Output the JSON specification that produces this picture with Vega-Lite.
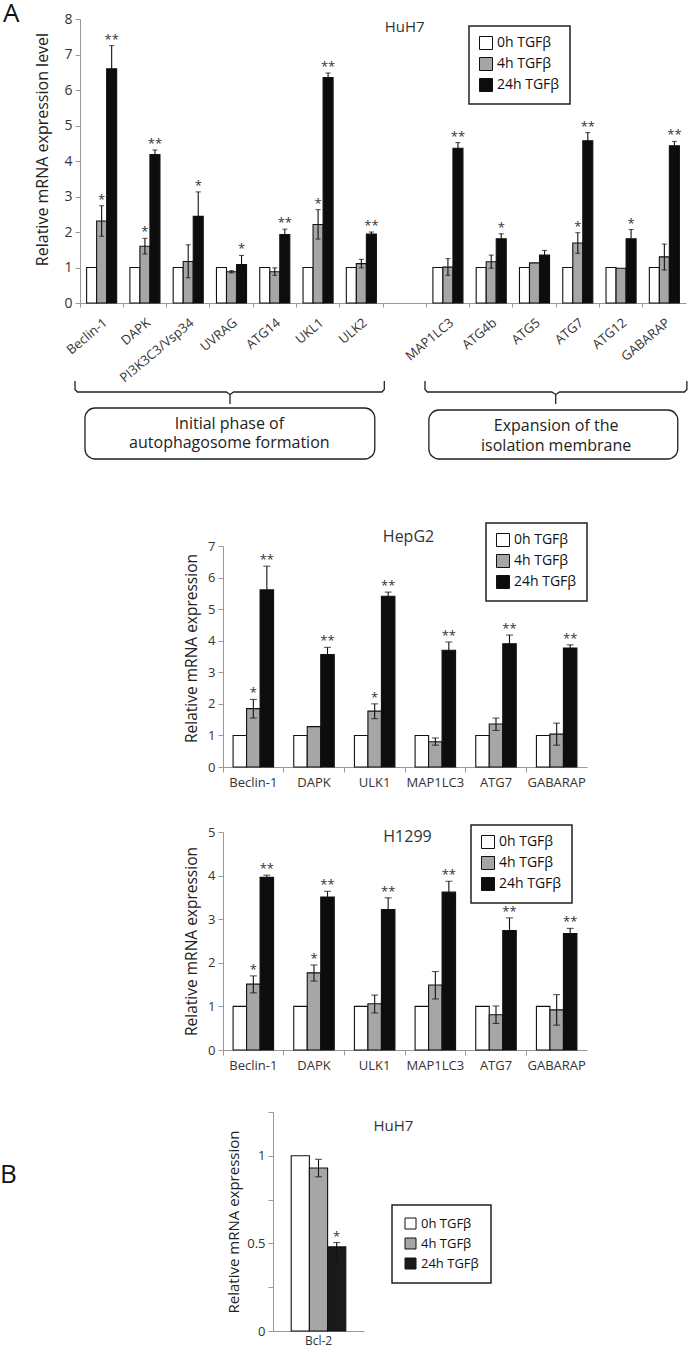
{
  "$schema": "https://vega.github.io/schema/vega-lite/v6.json",
  "padding": {"left": 0, "top": 1, "right": 0, "bottom": 0},
  "config": {
    "view": {"stroke": null},
    "font": "Open Sans",
    "axis": {"domainColor": "#999", "tickColor": "#999", "labelColor": "#333", "titleColor": "#222", "titleFontWeight": "normal", "grid": false, "labelOverlap": false},
    "legend": {"strokeWidth": 1.5},
    "title": {"fontWeight": "normal", "color": "#111"}
  },
  "datasets": {
    "huh7": [
      {"g": "Beclin-1", "t": "0h TGFβ", "v": 1},
      {"g": "Beclin-1", "t": "4h TGFβ", "v": 2.31, "lo": 1.88, "hi": 2.74, "s": "*"},
      {"g": "Beclin-1", "t": "24h TGFβ", "v": 6.6, "lo": 5.95, "hi": 7.25, "s": "**"},
      {"g": "DAPK", "t": "0h TGFβ", "v": 1},
      {"g": "DAPK", "t": "4h TGFβ", "v": 1.6, "lo": 1.38, "hi": 1.82, "s": "*"},
      {"g": "DAPK", "t": "24h TGFβ", "v": 4.18, "lo": 4.05, "hi": 4.31, "s": "**"},
      {"g": "PI3K3C3/Vsp34", "t": "0h TGFβ", "v": 1},
      {"g": "PI3K3C3/Vsp34", "t": "4h TGFβ", "v": 1.17, "lo": 0.71, "hi": 1.64},
      {"g": "PI3K3C3/Vsp34", "t": "24h TGFβ", "v": 2.44, "lo": 1.74, "hi": 3.13, "s": "*"},
      {"g": "UVRAG", "t": "0h TGFβ", "v": 1},
      {"g": "UVRAG", "t": "4h TGFβ", "v": 0.88, "lo": 0.85, "hi": 0.91},
      {"g": "UVRAG", "t": "24h TGFβ", "v": 1.08, "lo": 0.83, "hi": 1.34, "s": "*"},
      {"g": "ATG14", "t": "0h TGFβ", "v": 1},
      {"g": "ATG14", "t": "4h TGFβ", "v": 0.88, "lo": 0.78, "hi": 0.99},
      {"g": "ATG14", "t": "24h TGFβ", "v": 1.93, "lo": 1.78, "hi": 2.08, "s": "**"},
      {"g": "UKL1", "t": "0h TGFβ", "v": 1},
      {"g": "UKL1", "t": "4h TGFβ", "v": 2.21, "lo": 1.8, "hi": 2.63, "s": "*"},
      {"g": "UKL1", "t": "24h TGFβ", "v": 6.35, "lo": 6.22, "hi": 6.48, "s": "**"},
      {"g": "ULK2", "t": "0h TGFβ", "v": 1},
      {"g": "ULK2", "t": "4h TGFβ", "v": 1.11, "lo": 0.99, "hi": 1.23},
      {"g": "ULK2", "t": "24h TGFβ", "v": 1.94, "lo": 1.88, "hi": 2.0, "s": "**"},
      {"g": "MAP1LC3", "t": "0h TGFβ", "v": 1},
      {"g": "MAP1LC3", "t": "4h TGFβ", "v": 1.01, "lo": 0.78, "hi": 1.25},
      {"g": "MAP1LC3", "t": "24h TGFβ", "v": 4.36, "lo": 4.2, "hi": 4.52, "s": "**"},
      {"g": "ATG4b", "t": "0h TGFβ", "v": 1},
      {"g": "ATG4b", "t": "4h TGFβ", "v": 1.16, "lo": 0.98, "hi": 1.35},
      {"g": "ATG4b", "t": "24h TGFβ", "v": 1.81, "lo": 1.67, "hi": 1.95, "s": "*"},
      {"g": "ATG5", "t": "0h TGFβ", "v": 1},
      {"g": "ATG5", "t": "4h TGFβ", "v": 1.13},
      {"g": "ATG5", "t": "24h TGFβ", "v": 1.35, "lo": 1.22, "hi": 1.48},
      {"g": "ATG7", "t": "0h TGFβ", "v": 1},
      {"g": "ATG7", "t": "4h TGFβ", "v": 1.69, "lo": 1.4, "hi": 1.98, "s": "*"},
      {"g": "ATG7", "t": "24h TGFβ", "v": 4.57, "lo": 4.34, "hi": 4.8, "s": "**"},
      {"g": "ATG12", "t": "0h TGFβ", "v": 1},
      {"g": "ATG12", "t": "4h TGFβ", "v": 0.98},
      {"g": "ATG12", "t": "24h TGFβ", "v": 1.81, "lo": 1.55, "hi": 2.07, "s": "*"},
      {"g": "GABARAP", "t": "0h TGFβ", "v": 1},
      {"g": "GABARAP", "t": "4h TGFβ", "v": 1.3, "lo": 0.93, "hi": 1.66},
      {"g": "GABARAP", "t": "24h TGFβ", "v": 4.43, "lo": 4.31, "hi": 4.55, "s": "**"}
    ],
    "hepg2": [
      {"g": "Beclin-1", "t": "0h TGFβ", "v": 1},
      {"g": "Beclin-1", "t": "4h TGFβ", "v": 1.85, "lo": 1.55, "hi": 2.14, "s": "*"},
      {"g": "Beclin-1", "t": "24h TGFβ", "v": 5.61, "lo": 4.86, "hi": 6.36, "s": "**"},
      {"g": "DAPK", "t": "0h TGFβ", "v": 1},
      {"g": "DAPK", "t": "4h TGFβ", "v": 1.28},
      {"g": "DAPK", "t": "24h TGFβ", "v": 3.56, "lo": 3.33, "hi": 3.79, "s": "**"},
      {"g": "ULK1", "t": "0h TGFβ", "v": 1},
      {"g": "ULK1", "t": "4h TGFβ", "v": 1.77, "lo": 1.53, "hi": 2.0, "s": "*"},
      {"g": "ULK1", "t": "24h TGFβ", "v": 5.41, "lo": 5.28, "hi": 5.54, "s": "**"},
      {"g": "MAP1LC3", "t": "0h TGFβ", "v": 1},
      {"g": "MAP1LC3", "t": "4h TGFβ", "v": 0.8, "lo": 0.69, "hi": 0.92},
      {"g": "MAP1LC3", "t": "24h TGFβ", "v": 3.7, "lo": 3.44, "hi": 3.96, "s": "**"},
      {"g": "ATG7", "t": "0h TGFβ", "v": 1},
      {"g": "ATG7", "t": "4h TGFβ", "v": 1.36, "lo": 1.16, "hi": 1.55},
      {"g": "ATG7", "t": "24h TGFβ", "v": 3.9, "lo": 3.62, "hi": 4.18, "s": "**"},
      {"g": "GABARAP", "t": "0h TGFβ", "v": 1},
      {"g": "GABARAP", "t": "4h TGFβ", "v": 1.04, "lo": 0.69, "hi": 1.39},
      {"g": "GABARAP", "t": "24h TGFβ", "v": 3.77, "lo": 3.67, "hi": 3.87, "s": "**"}
    ],
    "h1299": [
      {"g": "Beclin-1", "t": "0h TGFβ", "v": 1},
      {"g": "Beclin-1", "t": "4h TGFβ", "v": 1.51, "lo": 1.31, "hi": 1.7, "s": "*"},
      {"g": "Beclin-1", "t": "24h TGFβ", "v": 3.96, "lo": 3.91, "hi": 4.01, "s": "**"},
      {"g": "DAPK", "t": "0h TGFβ", "v": 1},
      {"g": "DAPK", "t": "4h TGFβ", "v": 1.77, "lo": 1.58, "hi": 1.95, "s": "*"},
      {"g": "DAPK", "t": "24h TGFβ", "v": 3.51, "lo": 3.38, "hi": 3.64, "s": "**"},
      {"g": "ULK1", "t": "0h TGFβ", "v": 1},
      {"g": "ULK1", "t": "4h TGFβ", "v": 1.06, "lo": 0.85, "hi": 1.26},
      {"g": "ULK1", "t": "24h TGFβ", "v": 3.22, "lo": 2.95, "hi": 3.49, "s": "**"},
      {"g": "MAP1LC3", "t": "0h TGFβ", "v": 1},
      {"g": "MAP1LC3", "t": "4h TGFβ", "v": 1.49, "lo": 1.17, "hi": 1.8},
      {"g": "MAP1LC3", "t": "24h TGFβ", "v": 3.62, "lo": 3.37, "hi": 3.87, "s": "**"},
      {"g": "ATG7", "t": "0h TGFβ", "v": 1},
      {"g": "ATG7", "t": "4h TGFβ", "v": 0.81, "lo": 0.61, "hi": 1.01},
      {"g": "ATG7", "t": "24h TGFβ", "v": 2.74, "lo": 2.45, "hi": 3.03, "s": "**"},
      {"g": "GABARAP", "t": "0h TGFβ", "v": 1},
      {"g": "GABARAP", "t": "4h TGFβ", "v": 0.92, "lo": 0.57, "hi": 1.27},
      {"g": "GABARAP", "t": "24h TGFβ", "v": 2.67, "lo": 2.55, "hi": 2.79, "s": "**"}
    ],
    "bcl2": [
      {"g": "Bcl-2", "t": "0h TGFβ", "v": 1},
      {"g": "Bcl-2", "t": "4h TGFβ", "v": 0.93, "lo": 0.88, "hi": 0.98},
      {"g": "Bcl-2", "t": "24h TGFβ", "v": 0.48, "lo": 0.4, "hi": 0.505, "s": "*"}
    ],
    "braces": [
      {"b": 1, "o": 1, "x": -0.115, "y": 2},
      {"b": 1, "o": 2, "x": -0.115, "y": 10.5},
      {"b": 1, "o": 3, "x": -0.06, "y": 13},
      {"b": 1, "o": 4, "x": 3.38, "y": 13},
      {"b": 1, "o": 5, "x": 3.465, "y": 15.5},
      {"b": 1, "o": 6, "x": 3.465, "y": 25},
      {"b": 1, "o": 7, "x": 3.465, "y": 15.5},
      {"b": 1, "o": 8, "x": 3.55, "y": 13},
      {"b": 1, "o": 9, "x": 6.975, "y": 13},
      {"b": 1, "o": 10, "x": 7.03, "y": 10.5},
      {"b": 1, "o": 11, "x": 7.03, "y": 2},
      {"b": 2, "o": 1, "x": 7.97, "y": 2},
      {"b": 2, "o": 2, "x": 7.97, "y": 10.5},
      {"b": 2, "o": 3, "x": 8.025, "y": 13},
      {"b": 2, "o": 4, "x": 10.9, "y": 13},
      {"b": 2, "o": 5, "x": 10.99, "y": 15.5},
      {"b": 2, "o": 6, "x": 10.99, "y": 25},
      {"b": 2, "o": 7, "x": 10.99, "y": 15.5},
      {"b": 2, "o": 8, "x": 11.08, "y": 13},
      {"b": 2, "o": 9, "x": 13.965, "y": 13},
      {"b": 2, "o": 10, "x": 14.02, "y": 10.5},
      {"b": 2, "o": 11, "x": 14.02, "y": 2}
    ],
    "boxes": [
      {"x1": 0.115, "x2": 6.81, "y1": 29, "y2": 80},
      {"x1": 8.06, "x2": 13.81, "y1": 31, "y2": 80}
    ],
    "boxtext": [
      {"x": 3.45, "y": 45, "label": "Initial phase of"},
      {"x": 3.45, "y": 64, "label": "autophagosome formation"},
      {"x": 11.0, "y": 47, "label": "Expansion of the"},
      {"x": 11.0, "y": 67, "label": "isolation membrane"}
    ],
    "t_huh7": [{"g": " ", "v": 7.63, "label": "HuH7"}],
    "t_hepg2": [{"g": "MAP1LC3", "v": 7.13, "label": "HepG2"}],
    "t_h1299": [{"g": "MAP1LC3", "v": 4.77, "label": "H1299"}],
    "t_b": [{"g": "Bcl-2", "v": 1.139, "label": "HuH7"}]
  },
  "spacing": 0,
  "bounds": "flush",
  "resolve": {"scale": {"x": "independent", "y": "independent", "xOffset": "independent", "fill": "independent"}, "legend": {"fill": "independent"}},
  "vconcat": [
    {
      "width": 683, "height": 284,
      "title": {"text": "A", "anchor": "start", "frame": "group", "offset": -15, "dx": 0, "fontSize": 26, "fontWeight": "normal"},
      "data": {"name": "huh7"},
      "encoding": {
        "x": {"field": "g", "type": "nominal", "sort": null,
          "scale": {"domain": ["Beclin-1", "DAPK", "PI3K3C3/Vsp34", "UVRAG", "ATG14", "UKL1", "ULK2", " ", "MAP1LC3", "ATG4b", "ATG5", "ATG7", "ATG12", "GABARAP"], "range": [77, 683], "paddingInner": 0, "paddingOuter": 0},
          "axis": {"title": null, "bandPosition": 0, "labelAngle": -40, "labelFontSize": 13, "tickSize": 4, "labelPadding": 9}}
      },
      "layer": [
        {
          "mark": {"type": "bar", "stroke": "#111", "strokeWidth": 1.1},
          "encoding": {
            "xOffset": {"field": "t", "type": "nominal", "sort": null, "scale": {"domain": ["0h TGFβ", "4h TGFβ", "24h TGFβ"], "paddingInner": 0, "paddingOuter": 0.66}},
            "y": {"field": "v", "type": "quantitative", "scale": {"domain": [0, 8], "nice": false},
              "axis": {"title": "Relative mRNA expression level", "titleFontSize": 16, "titlePadding": 13, "titleY": 130, "values": [0, 1, 2, 3, 4, 5, 6, 7, 8], "labelFontSize": 14, "tickSize": 5, "labelPadding": 3, "offset": -77}},
            "fill": {"field": "t", "type": "nominal", "sort": null,
              "scale": {"domain": ["0h TGFβ", "4h TGFβ", "24h TGFβ"], "range": ["#ffffff", "#a6a6a6", "#0d0d0d"]},
              "legend": {"title": null, "orient": "none", "legendX": 466, "legendY": 7, "direction": "vertical", "symbolType": "square", "symbolSize": 169, "symbolStrokeColor": "#111", "symbolStrokeWidth": 1, "labelFontSize": 14, "labelColor": "#111", "labelOffset": 4, "padding": 10, "rowPadding": 3, "strokeColor": "#222", "fillColor": "#ffffff"}}
          }
        },
        {
          "transform": [{"filter": "isValid(datum.hi)"}],
          "mark": {"type": "rule", "color": "#111", "strokeWidth": 1.1},
          "encoding": {"xOffset": {"field": "t", "type": "nominal", "sort": null}, "y": {"field": "lo", "type": "quantitative", "axis": {"title": "Relative mRNA expression level", "titleFontSize": 16, "titlePadding": 13, "titleY": 130, "values": [0, 1, 2, 3, 4, 5, 6, 7, 8], "labelFontSize": 14, "tickSize": 5, "labelPadding": 3, "offset": -77}}, "y2": {"field": "hi"}}
        },
        {
          "transform": [{"filter": "isValid(datum.hi)"}],
          "mark": {"type": "tick", "color": "#111", "size": 5, "thickness": 1.1},
          "encoding": {"xOffset": {"field": "t", "type": "nominal", "sort": null}, "y": {"field": "hi", "type": "quantitative", "axis": {"title": "Relative mRNA expression level", "titleFontSize": 16, "titlePadding": 13, "titleY": 130, "values": [0, 1, 2, 3, 4, 5, 6, 7, 8], "labelFontSize": 14, "tickSize": 5, "labelPadding": 3, "offset": -77}}}
        },
        {
          "transform": [{"filter": "isValid(datum.lo)"}],
          "mark": {"type": "tick", "color": "#111", "size": 5, "thickness": 1.1},
          "encoding": {"xOffset": {"field": "t", "type": "nominal", "sort": null}, "y": {"field": "lo", "type": "quantitative", "axis": {"title": "Relative mRNA expression level", "titleFontSize": 16, "titlePadding": 13, "titleY": 130, "values": [0, 1, 2, 3, 4, 5, 6, 7, 8], "labelFontSize": 14, "tickSize": 5, "labelPadding": 3, "offset": -77}}}
        },
        {
          "transform": [{"filter": "isValid(datum.s)"}],
          "mark": {"type": "text", "baseline": "alphabetic", "dy": -2, "fontSize": 13, "color": "#333"},
          "encoding": {"xOffset": {"field": "t", "type": "nominal", "sort": null}, "y": {"field": "hi", "type": "quantitative", "axis": {"title": "Relative mRNA expression level", "titleFontSize": 16, "titlePadding": 13, "titleY": 130, "values": [0, 1, 2, 3, 4, 5, 6, 7, 8], "labelFontSize": 14, "tickSize": 5, "labelPadding": 3, "offset": -77}}, "text": {"field": "s"}}
        },
        {
          "data": {"name": "t_huh7"},
          "mark": {"type": "text", "baseline": "alphabetic", "align": "center", "fontSize": 15, "color": "#333"},
          "encoding": {"y": {"field": "v", "type": "quantitative", "axis": {"title": "Relative mRNA expression level", "titleFontSize": 16, "titlePadding": 13, "titleY": 130, "values": [0, 1, 2, 3, 4, 5, 6, 7, 8], "labelFontSize": 14, "tickSize": 5, "labelPadding": 3, "offset": -77}}, "text": {"field": "label"}}
        }
      ]
    },
    {"width": 1, "height": 76, "data": {"values": [{}]}, "mark": {"type": "point", "opacity": 0}, "encoding": {}},
    {
      "width": 683, "height": 82,
      "layer": [
        {
          "data": {"name": "braces"},
          "mark": {"type": "line", "color": "#222", "strokeWidth": 1.3, "interpolate": "linear", "clip": false},
          "encoding": {
            "x": {"field": "x", "type": "quantitative", "scale": {"domain": [0, 14], "range": [77, 683], "nice": false, "zero": false}, "axis": null},
            "y": {"field": "y", "type": "quantitative", "scale": {"domain": [0, 82], "nice": false, "reverse": true}, "axis": null},
            "detail": {"field": "b"},
            "order": {"field": "o"}
          }
        },
        {
          "data": {"name": "boxes"},
          "mark": {"type": "rect", "cornerRadius": 10, "fill": "#ffffff", "stroke": "#222", "strokeWidth": 1.3},
          "encoding": {
            "x": {"field": "x1", "type": "quantitative", "axis": null},
            "x2": {"field": "x2"},
            "y": {"field": "y1", "type": "quantitative", "axis": null},
            "y2": {"field": "y2"}
          }
        },
        {
          "data": {"name": "boxtext"},
          "mark": {"type": "text", "fontSize": 16, "color": "#222", "align": "center", "baseline": "middle"},
          "encoding": {
            "x": {"field": "x", "type": "quantitative", "axis": null},
            "y": {"field": "y", "type": "quantitative", "axis": null},
            "text": {"field": "label"}
          }
        }
      ]
    },
    {"width": 1, "height": 85, "data": {"values": [{}]}, "mark": {"type": "point", "opacity": 0}, "encoding": {}},
    {
      "width": 584, "height": 221,
      "data": {"name": "hepg2"},
      "encoding": {
        "x": {"field": "g", "type": "nominal", "sort": null,
          "scale": {"domain": ["Beclin-1", "DAPK", "ULK1", "MAP1LC3", "ATG7", "GABARAP"], "range": [220, 584], "paddingInner": 0, "paddingOuter": 0},
          "axis": {"title": null, "bandPosition": 0, "labelAngle": 0, "labelFontSize": 13, "tickSize": 5, "labelPadding": 4}}
      },
      "layer": [
        {
          "mark": {"type": "bar", "stroke": "#111", "strokeWidth": 1.1},
          "encoding": {
            "xOffset": {"field": "t", "type": "nominal", "sort": null, "scale": {"domain": ["0h TGFβ", "4h TGFβ", "24h TGFβ"], "paddingInner": 0, "paddingOuter": 0.747}},
            "y": {"field": "v", "type": "quantitative", "scale": {"domain": [0, 7], "nice": false},
              "axis": {"title": "Relative mRNA expression", "titleFontSize": 15.5, "titlePadding": 8, "titleY": 102, "values": [0, 1, 2, 3, 4, 5, 6, 7], "labelFontSize": 13, "tickSize": 5, "labelPadding": 3, "offset": -220}},
            "fill": {"field": "t", "type": "nominal", "sort": null,
              "scale": {"domain": ["0h TGFβ", "4h TGFβ", "24h TGFβ"], "range": ["#ffffff", "#a6a6a6", "#0d0d0d"]},
              "legend": {"title": null, "orient": "none", "legendX": 483, "legendY": -23, "direction": "vertical", "symbolType": "square", "symbolSize": 169, "symbolStrokeColor": "#111", "symbolStrokeWidth": 1, "labelFontSize": 14, "labelColor": "#111", "labelOffset": 4, "padding": 10, "rowPadding": 3, "strokeColor": "#222", "fillColor": "#ffffff"}}
          }
        },
        {
          "transform": [{"filter": "isValid(datum.hi)"}],
          "mark": {"type": "rule", "color": "#111", "strokeWidth": 1.1},
          "encoding": {"xOffset": {"field": "t", "type": "nominal", "sort": null}, "y": {"field": "lo", "type": "quantitative", "axis": {"title": "Relative mRNA expression", "titleFontSize": 15.5, "titlePadding": 8, "titleY": 102, "values": [0, 1, 2, 3, 4, 5, 6, 7], "labelFontSize": 13, "tickSize": 5, "labelPadding": 3, "offset": -220}}, "y2": {"field": "hi"}}
        },
        {
          "transform": [{"filter": "isValid(datum.hi)"}],
          "mark": {"type": "tick", "color": "#111", "size": 7, "thickness": 1.1},
          "encoding": {"xOffset": {"field": "t", "type": "nominal", "sort": null}, "y": {"field": "hi", "type": "quantitative", "axis": {"title": "Relative mRNA expression", "titleFontSize": 15.5, "titlePadding": 8, "titleY": 102, "values": [0, 1, 2, 3, 4, 5, 6, 7], "labelFontSize": 13, "tickSize": 5, "labelPadding": 3, "offset": -220}}}
        },
        {
          "transform": [{"filter": "isValid(datum.lo)"}],
          "mark": {"type": "tick", "color": "#111", "size": 7, "thickness": 1.1},
          "encoding": {"xOffset": {"field": "t", "type": "nominal", "sort": null}, "y": {"field": "lo", "type": "quantitative", "axis": {"title": "Relative mRNA expression", "titleFontSize": 15.5, "titlePadding": 8, "titleY": 102, "values": [0, 1, 2, 3, 4, 5, 6, 7], "labelFontSize": 13, "tickSize": 5, "labelPadding": 3, "offset": -220}}}
        },
        {
          "transform": [{"filter": "isValid(datum.s)"}],
          "mark": {"type": "text", "baseline": "alphabetic", "dy": -2, "fontSize": 13, "color": "#333"},
          "encoding": {"xOffset": {"field": "t", "type": "nominal", "sort": null}, "y": {"field": "hi", "type": "quantitative", "axis": {"title": "Relative mRNA expression", "titleFontSize": 15.5, "titlePadding": 8, "titleY": 102, "values": [0, 1, 2, 3, 4, 5, 6, 7], "labelFontSize": 13, "tickSize": 5, "labelPadding": 3, "offset": -220}}, "text": {"field": "s"}}
        },
        {
          "data": {"name": "t_hepg2"},
          "mark": {"type": "text", "baseline": "alphabetic", "align": "center", "fontSize": 16, "color": "#333", "dx": 3.5},
          "encoding": {"x": {"field": "g", "type": "nominal", "bandPosition": 0}, "y": {"field": "v", "type": "quantitative", "axis": {"title": "Relative mRNA expression", "titleFontSize": 15.5, "titlePadding": 8, "titleY": 102, "values": [0, 1, 2, 3, 4, 5, 6, 7], "labelFontSize": 13, "tickSize": 5, "labelPadding": 3, "offset": -220}}, "text": {"field": "label"}}
        }
      ]
    },
    {"width": 1, "height": 65, "data": {"values": [{}]}, "mark": {"type": "point", "opacity": 0}, "encoding": {}},
    {
      "width": 584, "height": 218,
      "data": {"name": "h1299"},
      "encoding": {
        "x": {"field": "g", "type": "nominal", "sort": null,
          "scale": {"domain": ["Beclin-1", "DAPK", "ULK1", "MAP1LC3", "ATG7", "GABARAP"], "range": [220, 584], "paddingInner": 0, "paddingOuter": 0},
          "axis": {"title": null, "bandPosition": 0, "labelAngle": 0, "labelFontSize": 13, "tickSize": 5, "labelPadding": 4}}
      },
      "layer": [
        {
          "mark": {"type": "bar", "stroke": "#111", "strokeWidth": 1.1},
          "encoding": {
            "xOffset": {"field": "t", "type": "nominal", "sort": null, "scale": {"domain": ["0h TGFβ", "4h TGFβ", "24h TGFβ"], "paddingInner": 0, "paddingOuter": 0.747}},
            "y": {"field": "v", "type": "quantitative", "scale": {"domain": [0, 5], "nice": false},
              "axis": {"title": "Relative mRNA expression", "titleFontSize": 15.5, "titlePadding": 8, "values": [0, 1, 2, 3, 4, 5], "labelFontSize": 13, "tickSize": 5, "labelPadding": 3, "offset": -220}},
            "fill": {"field": "t", "type": "nominal", "sort": null,
              "scale": {"domain": ["0h TGFβ", "4h TGFβ", "24h TGFβ"], "range": ["#ffffff", "#a6a6a6", "#0d0d0d"]},
              "legend": {"title": null, "orient": "none", "legendX": 468, "legendY": -7, "direction": "vertical", "symbolType": "square", "symbolSize": 169, "symbolStrokeColor": "#111", "symbolStrokeWidth": 1, "labelFontSize": 14, "labelColor": "#111", "labelOffset": 4, "padding": 10, "rowPadding": 3, "strokeColor": "#222", "fillColor": "#ffffff"}}
          }
        },
        {
          "transform": [{"filter": "isValid(datum.hi)"}],
          "mark": {"type": "rule", "color": "#111", "strokeWidth": 1.1},
          "encoding": {"xOffset": {"field": "t", "type": "nominal", "sort": null}, "y": {"field": "lo", "type": "quantitative", "axis": {"title": "Relative mRNA expression", "titleFontSize": 15.5, "titlePadding": 8, "values": [0, 1, 2, 3, 4, 5], "labelFontSize": 13, "tickSize": 5, "labelPadding": 3, "offset": -220}}, "y2": {"field": "hi"}}
        },
        {
          "transform": [{"filter": "isValid(datum.hi)"}],
          "mark": {"type": "tick", "color": "#111", "size": 7, "thickness": 1.1},
          "encoding": {"xOffset": {"field": "t", "type": "nominal", "sort": null}, "y": {"field": "hi", "type": "quantitative", "axis": {"title": "Relative mRNA expression", "titleFontSize": 15.5, "titlePadding": 8, "values": [0, 1, 2, 3, 4, 5], "labelFontSize": 13, "tickSize": 5, "labelPadding": 3, "offset": -220}}}
        },
        {
          "transform": [{"filter": "isValid(datum.lo)"}],
          "mark": {"type": "tick", "color": "#111", "size": 7, "thickness": 1.1},
          "encoding": {"xOffset": {"field": "t", "type": "nominal", "sort": null}, "y": {"field": "lo", "type": "quantitative", "axis": {"title": "Relative mRNA expression", "titleFontSize": 15.5, "titlePadding": 8, "values": [0, 1, 2, 3, 4, 5], "labelFontSize": 13, "tickSize": 5, "labelPadding": 3, "offset": -220}}}
        },
        {
          "transform": [{"filter": "isValid(datum.s)"}],
          "mark": {"type": "text", "baseline": "alphabetic", "dy": -2, "fontSize": 13, "color": "#333"},
          "encoding": {"xOffset": {"field": "t", "type": "nominal", "sort": null}, "y": {"field": "hi", "type": "quantitative", "axis": {"title": "Relative mRNA expression", "titleFontSize": 15.5, "titlePadding": 8, "values": [0, 1, 2, 3, 4, 5], "labelFontSize": 13, "tickSize": 5, "labelPadding": 3, "offset": -220}}, "text": {"field": "s"}}
        },
        {
          "data": {"name": "t_h1299"},
          "mark": {"type": "text", "baseline": "alphabetic", "align": "center", "fontSize": 16, "color": "#333", "dx": 2.5},
          "encoding": {"x": {"field": "g", "type": "nominal", "bandPosition": 0}, "y": {"field": "v", "type": "quantitative", "axis": {"title": "Relative mRNA expression", "titleFontSize": 15.5, "titlePadding": 8, "values": [0, 1, 2, 3, 4, 5], "labelFontSize": 13, "tickSize": 5, "labelPadding": 3, "offset": -220}}, "text": {"field": "label"}}
        }
      ]
    },
    {"width": 1, "height": 62, "data": {"values": [{}]}, "mark": {"type": "point", "opacity": 0}, "encoding": {}},
    {
      "width": 361, "height": 219,
      "title": {"text": "B", "orient": "bottom", "anchor": "start", "frame": "group", "offset": -184, "dx": -3, "fontSize": 26, "fontWeight": "normal"},
      "data": {"name": "bcl2"},
      "encoding": {
        "x": {"field": "g", "type": "nominal", "sort": null,
          "scale": {"domain": ["Bcl-2"], "range": [270, 361], "paddingInner": 0, "paddingOuter": 0},
          "axis": {"title": null, "labelAngle": 0, "labelFontSize": 12, "ticks": false, "labelPadding": 4}}
      },
      "layer": [
        {
          "mark": {"type": "bar", "stroke": "#111", "strokeWidth": 1.1},
          "encoding": {
            "xOffset": {"field": "t", "type": "nominal", "sort": null, "scale": {"domain": ["0h TGFβ", "4h TGFβ", "24h TGFβ"], "paddingInner": 0, "paddingOuter": 2.29}},
            "y": {"field": "v", "type": "quantitative", "scale": {"domain": [0, 1.25], "nice": false},
              "axis": {"title": "Relative mRNA expression", "titleFontSize": 15, "titlePadding": 5, "values": [0, 0.25, 0.5, 0.75, 1, 1.25], "labelExpr": "datum.value == 0 ? '0' : datum.value == 0.5 ? '0.5' : datum.value == 1 ? '1' : ''", "labelFontSize": 13, "tickSize": 5, "labelPadding": 3, "offset": -270}},
            "fill": {"field": "t", "type": "nominal", "sort": null,
              "scale": {"domain": ["0h TGFβ", "4h TGFβ", "24h TGFβ"], "range": ["#ffffff", "#a6a6a6", "#1a1a1a"]},
              "legend": {"title": null, "orient": "none", "legendX": 389, "legendY": 93, "direction": "vertical", "symbolType": "square", "symbolSize": 121, "symbolStrokeColor": "#111", "symbolStrokeWidth": 1, "labelFontSize": 13, "labelColor": "#111", "labelOffset": 4, "padding": 12, "rowPadding": 5, "strokeColor": "#222", "fillColor": "#ffffff"}}
          }
        },
        {
          "transform": [{"filter": "isValid(datum.hi)"}],
          "mark": {"type": "rule", "color": "#111", "strokeWidth": 1.1},
          "encoding": {"xOffset": {"field": "t", "type": "nominal", "sort": null}, "y": {"field": "lo", "type": "quantitative", "axis": {"title": "Relative mRNA expression", "titleFontSize": 15, "titlePadding": 5, "values": [0, 0.25, 0.5, 0.75, 1, 1.25], "labelExpr": "datum.value == 0 ? '0' : datum.value == 0.5 ? '0.5' : datum.value == 1 ? '1' : ''", "labelFontSize": 13, "tickSize": 5, "labelPadding": 3, "offset": -270}}, "y2": {"field": "hi"}}
        },
        {
          "transform": [{"filter": "isValid(datum.hi)"}],
          "mark": {"type": "tick", "color": "#111", "size": 7, "thickness": 1.1},
          "encoding": {"xOffset": {"field": "t", "type": "nominal", "sort": null}, "y": {"field": "hi", "type": "quantitative", "axis": {"title": "Relative mRNA expression", "titleFontSize": 15, "titlePadding": 5, "values": [0, 0.25, 0.5, 0.75, 1, 1.25], "labelExpr": "datum.value == 0 ? '0' : datum.value == 0.5 ? '0.5' : datum.value == 1 ? '1' : ''", "labelFontSize": 13, "tickSize": 5, "labelPadding": 3, "offset": -270}}}
        },
        {
          "transform": [{"filter": "isValid(datum.lo)"}],
          "mark": {"type": "tick", "color": "#111", "size": 7, "thickness": 1.1},
          "encoding": {"xOffset": {"field": "t", "type": "nominal", "sort": null}, "y": {"field": "lo", "type": "quantitative", "axis": {"title": "Relative mRNA expression", "titleFontSize": 15, "titlePadding": 5, "values": [0, 0.25, 0.5, 0.75, 1, 1.25], "labelExpr": "datum.value == 0 ? '0' : datum.value == 0.5 ? '0.5' : datum.value == 1 ? '1' : ''", "labelFontSize": 13, "tickSize": 5, "labelPadding": 3, "offset": -270}}}
        },
        {
          "transform": [{"filter": "isValid(datum.s)"}],
          "mark": {"type": "text", "baseline": "alphabetic", "dy": -2, "fontSize": 13, "color": "#333"},
          "encoding": {"xOffset": {"field": "t", "type": "nominal", "sort": null}, "y": {"field": "hi", "type": "quantitative", "axis": {"title": "Relative mRNA expression", "titleFontSize": 15, "titlePadding": 5, "values": [0, 0.25, 0.5, 0.75, 1, 1.25], "labelExpr": "datum.value == 0 ? '0' : datum.value == 0.5 ? '0.5' : datum.value == 1 ? '1' : ''", "labelFontSize": 13, "tickSize": 5, "labelPadding": 3, "offset": -270}}, "text": {"field": "s"}}
        },
        {
          "data": {"name": "t_b"},
          "mark": {"type": "text", "baseline": "alphabetic", "align": "center", "fontSize": 15, "color": "#333", "dx": 29.5},
          "encoding": {"x": {"field": "g", "type": "nominal", "bandPosition": 1}, "y": {"field": "v", "type": "quantitative", "axis": {"title": "Relative mRNA expression", "titleFontSize": 15, "titlePadding": 5, "values": [0, 0.25, 0.5, 0.75, 1, 1.25], "labelExpr": "datum.value == 0 ? '0' : datum.value == 0.5 ? '0.5' : datum.value == 1 ? '1' : ''", "labelFontSize": 13, "tickSize": 5, "labelPadding": 3, "offset": -270}}, "text": {"field": "label"}}
        }
      ]
    }
  ]
}
